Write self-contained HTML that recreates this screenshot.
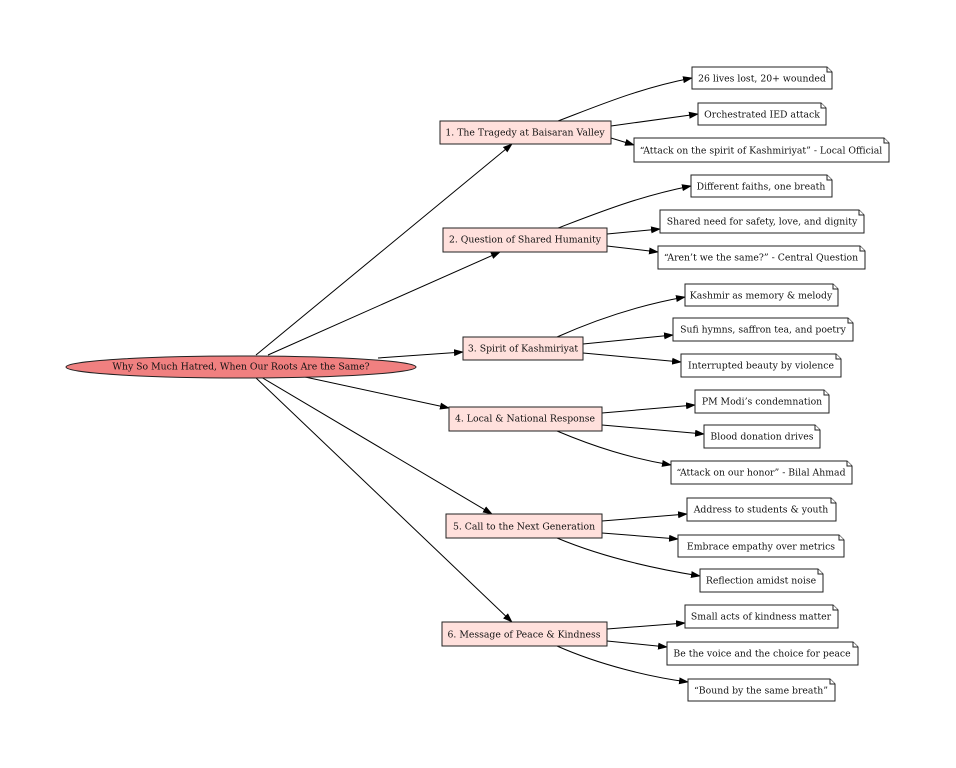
<!DOCTYPE html>
<html><head><meta charset="utf-8"><style>
html,body{margin:0;padding:0;background:#fff}
svg{display:block}
text{font-family:"DejaVu Serif","Liberation Serif",serif;font-size:9.3px;fill:#111;text-anchor:middle;dominant-baseline:central}
.c{fill:#ffe0dc;stroke:#222;stroke-width:1}
.n{fill:#fff;stroke:#222;stroke-width:1}
.e{fill:none;stroke:#000;stroke-width:1;marker-end:url(#a)}
</style></head><body>
<svg width="956" height="768" viewBox="0 0 956 768">
<defs><marker id="a" markerWidth="10" markerHeight="8" refX="9" refY="3.5" orient="auto" markerUnits="userSpaceOnUse"><path d="M0,0 L10,3.5 L0,7 Z" fill="#000"/></marker></defs>
<path class="e" d="M256,355 L512,144"/>
<path class="e" d="M268,355 L500,252"/>
<path class="e" d="M378,358 L463,352"/>
<path class="e" d="M305,377 L449,408"/>
<path class="e" d="M261,377 L492,514"/>
<path class="e" d="M255,377 L512,622"/>
<ellipse cx="241" cy="367" rx="175" ry="11" fill="#f08080" stroke="#222"/>
<text x="241" y="367">Why So Much Hatred, When Our Roots Are the Same?</text>

<path class="e" d="M558,121 C600,105 640,88 692,78"/>
<path class="e" d="M611,126 L698,114"/>
<path class="e" d="M611,138 L634,145"/>
<rect class="c" x="440" y="121" width="171" height="23"/><text x="525" y="133">1. The Tragedy at Baisaran Valley</text>
<path class="e" d="M558,228 C600,212 640,196 691,186"/>
<path class="e" d="M607,234 L660,229"/>
<path class="e" d="M607,246 L658,252"/>
<rect class="c" x="443" y="228" width="164" height="24"/><text x="525" y="240">2. Question of Shared Humanity</text>
<path class="e" d="M557,337 C595,320 640,305 685,297"/>
<path class="e" d="M583,344 L673,335"/>
<path class="e" d="M583,353 L681,362"/>
<rect class="c" x="463" y="337" width="120" height="23"/><text x="523" y="349">3. Spirit of Kashmiriyat</text>
<path class="e" d="M602,413 L695,405"/>
<path class="e" d="M602,425 L704,434"/>
<path class="e" d="M557,431 C595,447 630,458 671,465"/>
<rect class="c" x="449" y="407" width="153" height="24"/><text x="525" y="419">4. Local &amp; National Response</text>
<path class="e" d="M602,521 L687,514"/>
<path class="e" d="M602,533 L678,539"/>
<path class="e" d="M557,538 C600,556 650,568 700,576"/>
<rect class="c" x="446" y="514" width="156" height="24"/><text x="524" y="527">5. Call to the Next Generation</text>
<path class="e" d="M607,629 L685,623"/>
<path class="e" d="M607,641 L667,647"/>
<path class="e" d="M557,646 C600,665 650,677 688,682"/>
<rect class="c" x="442" y="622" width="165" height="24"/><text x="524" y="635">6. Message of Peace &amp; Kindness</text>

<polygon class="n" points="692,67 827,67 832,72 832,89 692,89"/><polyline class="n" points="827,67 827,72 832,72"/><text x="762" y="79">26 lives lost, 20+ wounded</text>
<polygon class="n" points="698,103 821,103 826,108 826,125 698,125"/><polyline class="n" points="821,103 821,108 826,108"/><text x="762" y="115">Orchestrated IED attack</text>
<polygon class="n" points="634,138 884,138 889,143 889,162 634,162"/><polyline class="n" points="884,138 884,143 889,143"/><text x="761" y="151">“Attack on the spirit of Kashmiriyat” - Local Official</text>

<polygon class="n" points="691,175 827,175 832,180 832,197 691,197"/><polyline class="n" points="827,175 827,180 832,180"/><text x="761" y="187">Different faiths, one breath</text>
<polygon class="n" points="660,210 859,210 864,215 864,233 660,233"/><polyline class="n" points="859,210 859,215 864,215"/><text x="762" y="222">Shared need for safety, love, and dignity</text>
<polygon class="n" points="658,246 860,246 865,251 865,269 658,269"/><polyline class="n" points="860,246 860,251 865,251"/><text x="761" y="258">“Aren’t we the same?” - Central Question</text>

<polygon class="n" points="685,284 833,284 838,289 838,306 685,306"/><polyline class="n" points="833,284 833,289 838,289"/><text x="761" y="296">Kashmir as memory &amp; melody</text>
<polygon class="n" points="673,318 848,318 853,323 853,341 673,341"/><polyline class="n" points="848,318 848,323 853,323"/><text x="763" y="330">Sufi hymns, saffron tea, and poetry</text>
<polygon class="n" points="681,354 836,354 841,359 841,377 681,377"/><polyline class="n" points="836,354 836,359 841,359"/><text x="761" y="366">Interrupted beauty by violence</text>

<polygon class="n" points="695,390 824,390 829,395 829,413 695,413"/><polyline class="n" points="824,390 824,395 829,395"/><text x="762" y="402">PM Modi’s condemnation</text>
<polygon class="n" points="704,425 815,425 820,430 820,448 704,448"/><polyline class="n" points="815,425 815,430 820,430"/><text x="762" y="437">Blood donation drives</text>
<polygon class="n" points="671,461 847,461 852,466 852,484 671,484"/><polyline class="n" points="847,461 847,466 852,466"/><text x="761" y="473">“Attack on our honor” - Bilal Ahmad</text>

<polygon class="n" points="687,498 831,498 836,503 836,521 687,521"/><polyline class="n" points="831,498 831,503 836,503"/><text x="761" y="510">Address to students &amp; youth</text>
<polygon class="n" points="678,535 839,535 844,540 844,557 678,557"/><polyline class="n" points="839,535 839,540 844,540"/><text x="761" y="547">Embrace empathy over metrics</text>
<polygon class="n" points="700,569 818,569 823,574 823,592 700,592"/><polyline class="n" points="818,569 818,574 823,574"/><text x="761" y="581">Reflection amidst noise</text>

<polygon class="n" points="685,605 833,605 838,610 838,628 685,628"/><polyline class="n" points="833,605 833,610 838,610"/><text x="761" y="617">Small acts of kindness matter</text>
<polygon class="n" points="667,642 853,642 858,647 858,665 667,665"/><polyline class="n" points="853,642 853,647 858,647"/><text x="762" y="654">Be the voice and the choice for peace</text>
<polygon class="n" points="688,679 830,679 835,684 835,701 688,701"/><polyline class="n" points="830,679 830,684 835,684"/><text x="761" y="691">“Bound by the same breath”</text>
</svg>
</body></html>
